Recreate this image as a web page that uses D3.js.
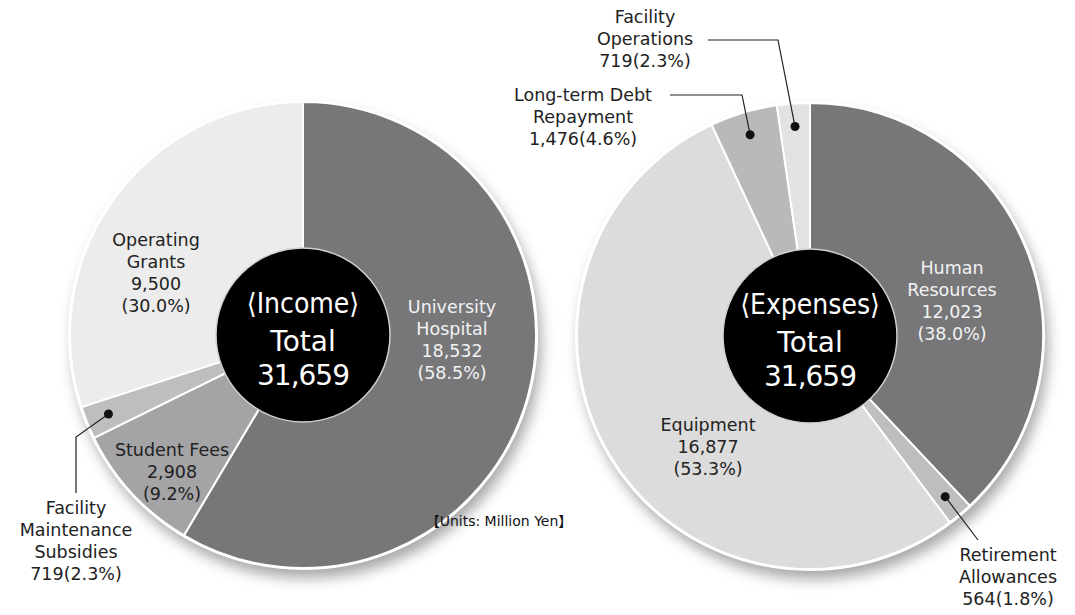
<!DOCTYPE html>
<html>
<head>
<meta charset="utf-8">
<script src="https://cdn.jsdelivr.net/npm/d3@7"></script>
<style>
body { margin: 0; background: #fff; }
text { font-family: "DejaVu Sans", sans-serif; }
</style>
</head>
<body>
<script>

// income data (million yen)
var incomeNames = ["University Hospital", "Student Fees", "Facility Maintenance Subsidies", "Operating Grants"];
var incomeValues = [18532, 2908, 719, 9500];
var incomePct = ["58.5%", "9.2%", "2.3%", "30.0%"];
var incomeColors = ["#77777a", "#a4a4a6", "#bebec0", "#ececec"];

// expense data (million yen)
var expenseNames = ["Human Resources", "Retirement Allowances", "Equipment", "Long-term Debt Repayment", "Facility Operations"];
var expenseValues = [12023, 564, 16877, 1476, 719];
var expensePct = ["38.0%", "1.8%", "53.3%", "4.6%", "2.3%"];
var expenseColors = ["#77777a", "#bebec0", "#dcdcdc", "#b9b9bb", "#e2e2e4"];

var totalLabel = "31,659";

var w = 1075, h = 615;
var R = 233, innerR = 87;

var svg = d3.select("body").append("svg")
    .attr("width", w)
    .attr("height", h);

var defs = svg.append("defs");
var f = defs.append("filter").attr("id", "shadow")
    .attr("x", "-20%").attr("y", "-20%").attr("width", "140%").attr("height", "140%");
f.append("feDropShadow")
    .attr("dx", 4).attr("dy", 9)
    .attr("stdDeviation", 7)
    .attr("flood-color", "#000")
    .attr("flood-opacity", 0.35);

var pie = d3.pie().sort(null).value(function(d) { return d; });
var arc = d3.arc().innerRadius(0).outerRadius(R);
var dotArc = d3.arc().innerRadius(210).outerRadius(210);

function fmt(v) { return d3.format(",")(v); }

function drawPie(cx, cy, values, colors, title) {
    var g = svg.append("g").attr("transform", "translate(" + cx + "," + cy + ")");

    g.append("circle")
        .attr("r", R + 1)
        .attr("fill", "#fff")
        .attr("filter", "url(#shadow)");

    var arcs = pie(values);
    g.selectAll("path")
        .data(arcs)
        .enter()
        .append("path")
        .attr("d", arc)
        .attr("fill", function(d, i) { return colors[i]; })
        .attr("stroke", "#fff")
        .attr("stroke-width", 2);

    g.append("circle")
        .attr("r", R + 1)
        .attr("fill", "none")
        .attr("stroke", "#fff")
        .attr("stroke-width", 2);

    g.append("circle")
        .attr("r", innerR)
        .attr("fill", "#000")
        .attr("stroke", "#d0d0d0")
        .attr("stroke-width", 1.5);

    g.append("text")
        .attr("text-anchor", "middle")
        .attr("y", -22)
        .attr("fill", "#fff")
        .style("font-family", "'DejaVu Sans Condensed', 'DejaVu Sans', sans-serif")
        .style("font-size", "28px")
        .text("\u27E8" + title + "\u27E9");

    g.append("text")
        .attr("text-anchor", "middle")
        .attr("y", 16)
        .attr("fill", "#fff")
        .style("font-size", "28px")
        .text("Total");

    g.append("text")
        .attr("text-anchor", "middle")
        .attr("y", 50)
        .attr("fill", "#fff")
        .style("font-size", "28px")
        .style("letter-spacing", "-1px")
        .text(totalLabel);

    return {g: g, arcs: arcs, cx: cx, cy: cy};
}

function label(x, y, lines, color, size) {
    var t = svg.append("text")
        .attr("text-anchor", "middle")
        .attr("fill", color)
        .style("font-size", (size || 17.5) + "px");
    lines.forEach(function(l, i) {
        t.append("tspan")
            .attr("x", x)
            .attr("y", y + i * 22)
            .text(l);
    });
}

function leader(p, pts) {
    var c = dotArc.centroid(p.d);
    var dx = p.cx + c[0], dy = p.cy + c[1];
    var all = pts.concat([[dx, dy]]);
    svg.append("path")
        .attr("d", d3.line()(all))
        .attr("fill", "none")
        .attr("stroke", "#222")
        .attr("stroke-width", 1.2);
    svg.append("circle")
        .attr("cx", dx).attr("cy", dy)
        .attr("r", 4.5)
        .attr("fill", "#111");
}

var inc = drawPie(303, 335, incomeValues, incomeColors, "Income");
var exp = drawPie(810, 336, expenseValues, expenseColors, "Expenses");

var dark = "#222", light = "#f2f2f2";

// income labels
label(452, 313, ["University", "Hospital", fmt(incomeValues[0]), "(" + incomePct[0] + ")"], light);
label(172, 456, ["Student Fees", fmt(incomeValues[1]), "(" + incomePct[1] + ")"], dark);
label(76, 514, ["Facility", "Maintenance", "Subsidies", fmt(incomeValues[2]) + "(" + incomePct[2] + ")"], dark);
label(156, 246, ["Operating", "Grants", fmt(incomeValues[3]), "(" + incomePct[3] + ")"], dark);
leader({d: inc.arcs[2], cx: inc.cx, cy: inc.cy}, [[76, 493], [76, 437]]);

// expense labels
label(952, 274, ["Human", "Resources", fmt(expenseValues[0]), "(" + expensePct[0] + ")"], light);
label(1008, 561, ["Retirement", "Allowances", fmt(expenseValues[1]) + "(" + expensePct[1] + ")"], dark);
label(708, 431, ["Equipment", fmt(expenseValues[2]), "(" + expensePct[2] + ")"], dark);
label(583, 101, ["Long-term Debt", "Repayment", fmt(expenseValues[3]) + "(" + expensePct[3] + ")"], dark);
label(645, 23, ["Facility", "Operations", fmt(expenseValues[4]) + "(" + expensePct[4] + ")"], dark);
leader({d: exp.arcs[1], cx: exp.cx, cy: exp.cy}, [[978, 540]]);
leader({d: exp.arcs[3], cx: exp.cx, cy: exp.cy}, [[670, 95], [742, 95]]);
leader({d: exp.arcs[4], cx: exp.cx, cy: exp.cy}, [[708, 40], [778, 40]]);

svg.append("text")
    .attr("x", 499)
    .attr("y", 526)
    .attr("text-anchor", "middle")
    .attr("fill", "#111")
    .style("font-size", "14px")
    .style("font-family", "'DejaVu Sans', 'Noto Sans CJK JP', sans-serif")
    .text("\u3010Units: Million Yen\u3011");

</script>
</body>
</html>
